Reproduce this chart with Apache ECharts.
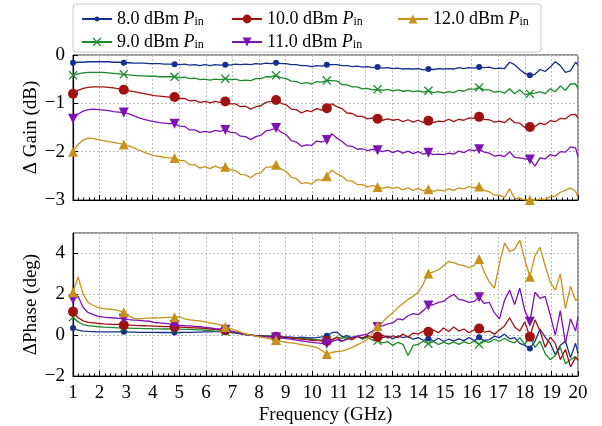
<!DOCTYPE html>
<html>
<head>
<meta charset="utf-8">
<script src="https://cdn.jsdelivr.net/npm/echarts@6/dist/echarts.min.js"></script>
<style>
html, body { margin: 0; padding: 0; background: #fff; }
#main { width: 602px; height: 426px; }
</style>
</head>
<body>
<div id="main"></div>
<script>
// sample grid in GHz (last point at 20)
var freq = [];
for (var i = 0; i < 100; i++) freq.push(+(1 + 0.191 * i).toFixed(3));
freq.push(20);

var names = ['8.0 dBm Pin', '9.0 dBm Pin', '10.0 dBm Pin', '11.0 dBm Pin', '12.0 dBm Pin'];
var colors = ['#172f8c', '#1b8a2b', '#a01212', '#7f12b5', '#c8921a'];

// delta gain (dB)
var gain8 = [-0.16,-0.15,-0.15,-0.14,-0.14,-0.14,-0.14,-0.14,-0.15,-0.15,
  -0.16,-0.16,-0.17,-0.17,-0.17,-0.18,-0.18,-0.18,-0.19,-0.19,
  -0.19,-0.2,-0.19,-0.21,-0.2,-0.22,-0.2,-0.22,-0.2,-0.21,
  -0.2,-0.21,-0.19,-0.2,-0.19,-0.2,-0.18,-0.19,-0.17,-0.18,
  -0.16,-0.18,-0.18,-0.2,-0.2,-0.22,-0.22,-0.24,-0.22,-0.23,
  -0.2,-0.2,-0.2,-0.22,-0.22,-0.24,-0.23,-0.25,-0.24,-0.26,
  -0.25,-0.27,-0.26,-0.28,-0.27,-0.29,-0.28,-0.29,-0.28,-0.31,
  -0.29,-0.3,-0.28,-0.29,-0.28,-0.29,-0.26,-0.28,-0.26,-0.27,
  -0.25,-0.26,-0.25,-0.28,-0.27,-0.28,-0.15,-0.2,-0.3,-0.38,
  -0.42,-0.4,-0.3,-0.34,-0.25,-0.14,-0.22,-0.36,-0.33,-0.15,
  -0.2];
var gain9 = [-0.42,-0.39,-0.37,-0.36,-0.36,-0.36,-0.36,-0.37,-0.38,-0.39,
  -0.4,-0.41,-0.42,-0.43,-0.43,-0.44,-0.44,-0.45,-0.45,-0.45,
  -0.45,-0.47,-0.46,-0.49,-0.48,-0.51,-0.5,-0.52,-0.5,-0.51,
  -0.49,-0.51,-0.5,-0.53,-0.52,-0.53,-0.49,-0.49,-0.45,-0.45,
  -0.42,-0.47,-0.49,-0.54,-0.55,-0.59,-0.57,-0.6,-0.55,-0.56,
  -0.53,-0.53,-0.54,-0.61,-0.62,-0.66,-0.66,-0.7,-0.69,-0.72,
  -0.71,-0.73,-0.71,-0.74,-0.72,-0.75,-0.73,-0.76,-0.74,-0.77,
  -0.74,-0.78,-0.76,-0.79,-0.76,-0.78,-0.73,-0.75,-0.7,-0.71,
  -0.67,-0.72,-0.72,-0.77,-0.75,-0.79,-0.7,-0.8,-0.72,-0.82,
  -0.8,-0.79,-0.76,-0.8,-0.7,-0.76,-0.64,-0.73,-0.6,-0.6,
  -0.7];
var gain10 = [-0.8,-0.73,-0.69,-0.67,-0.66,-0.66,-0.66,-0.67,-0.68,-0.7,
  -0.72,-0.74,-0.76,-0.78,-0.8,-0.82,-0.84,-0.85,-0.86,-0.87,
  -0.87,-0.9,-0.9,-0.95,-0.94,-0.98,-0.96,-0.99,-0.96,-0.98,
  -0.96,-1.01,-1.01,-1.07,-1.06,-1.12,-1.07,-1.05,-0.98,-0.96,
  -0.93,-1.0,-1.03,-1.12,-1.13,-1.2,-1.15,-1.17,-1.11,-1.14,
  -1.1,-1.01,-1.07,-1.11,-1.2,-1.21,-1.27,-1.27,-1.32,-1.3,
  -1.32,-1.35,-1.32,-1.35,-1.33,-1.38,-1.34,-1.39,-1.35,-1.4,
  -1.36,-1.4,-1.37,-1.38,-1.33,-1.38,-1.33,-1.35,-1.3,-1.31,
  -1.28,-1.33,-1.34,-1.39,-1.37,-1.4,-1.31,-1.4,-1.41,-1.5,
  -1.49,-1.48,-1.41,-1.44,-1.36,-1.38,-1.31,-1.32,-1.24,-1.23,
  -1.3];
var gain11 = [-1.32,-1.22,-1.16,-1.13,-1.12,-1.13,-1.14,-1.15,-1.17,-1.18,
  -1.19,-1.22,-1.26,-1.3,-1.33,-1.36,-1.38,-1.4,-1.41,-1.42,
  -1.42,-1.47,-1.48,-1.55,-1.55,-1.6,-1.58,-1.6,-1.56,-1.58,
  -1.55,-1.6,-1.61,-1.68,-1.69,-1.75,-1.69,-1.66,-1.57,-1.55,
  -1.51,-1.6,-1.65,-1.77,-1.8,-1.89,-1.86,-1.87,-1.78,-1.8,
  -1.76,-1.63,-1.72,-1.79,-1.88,-1.89,-1.95,-1.94,-1.98,-1.95,
  -1.97,-2.0,-1.97,-2.02,-1.98,-2.03,-1.99,-2.04,-2.0,-2.05,
  -2.02,-2.06,-2.05,-2.06,-2.03,-2.05,-1.99,-2.02,-1.96,-1.98,
  -1.95,-2.01,-2.03,-2.09,-2.07,-2.1,-2.0,-2.12,-2.13,-2.15,
  -2.16,-2.3,-2.13,-2.15,-2.06,-2.09,-2.0,-2.01,-1.9,-1.92,
  -2.11];
var gain12 = [-2.0,-1.85,-1.76,-1.72,-1.73,-1.75,-1.77,-1.79,-1.81,-1.83,
  -1.85,-1.88,-1.92,-1.97,-2.01,-2.05,-2.08,-2.1,-2.12,-2.13,
  -2.13,-2.18,-2.19,-2.27,-2.27,-2.34,-2.31,-2.35,-2.3,-2.34,
  -2.31,-2.37,-2.39,-2.47,-2.48,-2.54,-2.46,-2.44,-2.32,-2.32,
  -2.27,-2.36,-2.41,-2.53,-2.56,-2.66,-2.64,-2.67,-2.58,-2.59,
  -2.51,-2.38,-2.46,-2.51,-2.6,-2.61,-2.68,-2.68,-2.73,-2.7,
  -2.73,-2.76,-2.73,-2.76,-2.74,-2.79,-2.75,-2.8,-2.76,-2.81,
  -2.78,-2.82,-2.79,-2.81,-2.77,-2.8,-2.75,-2.77,-2.72,-2.75,
  -2.72,-2.8,-2.83,-2.9,-2.9,-2.95,-2.77,-2.97,-2.96,-3.0,
  -3.0,-3.01,-2.98,-2.99,-2.93,-2.92,-2.84,-2.8,-2.75,-2.82,
  -2.95];

// delta phase (deg)
var phase8 = [0.35,0.25,0.2,0.18,0.17,0.16,0.16,0.16,0.16,0.16,
  0.16,0.15,0.15,0.14,0.14,0.14,0.14,0.13,0.13,0.13,
  0.13,0.13,0.14,0.14,0.15,0.15,0.16,0.16,0.17,0.17,
  0.17,0.15,0.12,0.08,0.04,0.0,-0.02,-0.03,-0.04,-0.05,
  -0.06,-0.08,-0.08,-0.1,-0.12,-0.1,-0.12,-0.14,-0.12,-0.08,
  -0.03,0.12,0.15,-0.08,-0.02,-0.14,-0.06,-0.15,-0.04,-0.1,
  0.02,-0.12,-0.05,-0.18,-0.04,-0.12,-0.06,-0.2,-0.12,-0.25,
  -0.16,-0.3,-0.15,-0.3,-0.2,-0.28,-0.18,-0.27,-0.12,-0.26,
  -0.1,-0.26,-0.22,-0.05,-0.12,0.05,-0.18,-0.12,-0.4,-0.5,
  -0.65,-0.3,0.3,-0.1,-0.4,-0.95,-0.5,-0.3,-1.1,-0.4,
  -0.9];
var phase9 = [0.88,0.65,0.52,0.47,0.44,0.41,0.39,0.38,0.37,0.36,
  0.35,0.34,0.33,0.33,0.32,0.32,0.31,0.31,0.3,0.3,
  0.29,0.29,0.28,0.28,0.27,0.26,0.24,0.22,0.2,0.18,
  0.16,0.13,0.1,0.06,0.02,0.0,-0.02,-0.04,-0.05,-0.06,
  -0.08,-0.1,-0.12,-0.14,-0.15,-0.16,-0.18,-0.2,-0.22,-0.23,
  -0.25,-0.22,-0.1,-0.16,-0.08,-0.18,-0.05,-0.2,-0.1,-0.25,
  -0.28,-0.38,-0.32,-0.5,-0.35,-0.45,-1.0,-0.5,-0.45,-0.3,
  -0.42,-0.32,-0.46,-0.34,-0.44,-0.33,-0.45,-0.32,-0.42,-0.3,
  -0.45,-0.3,-0.35,-0.2,-0.3,-0.15,-0.3,-0.38,-0.12,-0.45,
  -0.1,-0.6,-0.3,-0.9,-1.2,-1.0,-0.6,-1.4,-1.2,-1.05,
  -1.25];
var phase10 = [1.15,0.85,0.7,0.63,0.6,0.57,0.55,0.54,0.53,0.52,
  0.5,0.49,0.48,0.47,0.46,0.45,0.44,0.43,0.42,0.42,
  0.4,0.39,0.38,0.37,0.36,0.35,0.33,0.3,0.28,0.26,
  0.24,0.2,0.15,0.1,0.05,0.0,-0.03,-0.05,-0.06,-0.07,
  -0.08,-0.1,-0.12,-0.14,-0.17,-0.2,-0.22,-0.25,-0.27,-0.28,
  -0.29,-0.25,-0.1,-0.3,-0.16,-0.22,-0.06,-0.15,-0.02,-0.12,
  -0.08,0.0,-0.14,-0.04,-0.12,0.05,-0.1,0.1,0.05,0.2,
  0.16,0.25,0.12,0.35,0.18,0.4,0.2,0.3,0.12,0.25,
  0.32,0.15,0.2,0.05,0.25,0.45,0.85,0.4,0.2,0.65,
  -0.08,0.75,0.2,-0.6,-0.1,-0.4,-1.2,-0.7,-1.55,-1.1,
  -1.2];
var phase11 = [1.75,1.9,1.35,1.1,1.0,0.92,0.88,0.86,0.84,0.82,
  0.8,0.76,0.74,0.72,0.7,0.68,0.62,0.6,0.58,0.55,
  0.5,0.48,0.46,0.45,0.43,0.42,0.38,0.35,0.32,0.3,
  0.26,0.2,0.14,0.08,0.03,0.0,-0.04,-0.06,-0.08,-0.09,
  -0.12,-0.14,-0.17,-0.2,-0.24,-0.28,-0.32,-0.35,-0.38,-0.4,
  -0.42,-0.32,-0.22,-0.3,-0.2,-0.1,-0.05,0.0,0.05,0.2,
  0.4,0.45,0.55,0.6,0.8,0.75,0.95,1.05,1.0,1.2,
  1.45,1.5,1.6,1.65,1.85,2.0,1.75,1.7,1.6,1.65,
  1.85,1.55,1.6,1.1,0.8,1.7,2.2,1.5,2.3,1.2,
  0.65,2.1,1.8,1.9,1.0,0.0,1.2,-0.4,0.8,0.2,
  0.9];
var phase12 = [2.1,2.85,2.0,1.6,1.45,1.35,1.3,1.28,1.25,1.2,
  1.12,0.95,0.82,0.8,0.82,0.83,0.84,0.85,0.86,0.87,
  0.88,0.9,0.8,0.75,0.72,0.7,0.65,0.6,0.55,0.5,
  0.4,0.32,0.25,0.15,0.05,0.0,-0.05,-0.1,-0.15,-0.2,
  -0.24,-0.3,-0.35,-0.38,-0.42,-0.46,-0.5,-0.55,-0.6,-0.75,
  -0.92,-0.85,-0.8,-0.78,-0.7,-0.6,-0.48,-0.35,-0.2,0.1,
  0.45,0.65,0.9,1.1,1.35,1.55,1.75,1.9,2.1,2.5,
  3.02,3.1,3.2,3.4,3.6,3.55,3.45,3.4,3.3,3.4,
  3.73,3.1,2.6,2.3,3.5,4.5,4.1,4.2,4.65,3.7,
  2.86,3.9,4.3,3.4,2.6,2.2,3.0,1.3,2.4,1.7,
  1.8];

var gainData = [gain8, gain9, gain10, gain11, gain12];
var phaseData = [phase8, phase9, phase10, phase11, phase12];

var xMark = 'path://M0,1L1,0L5,4L9,0L10,1L6,5L10,9L9,10L5,6L1,10L0,9L4,5Z';
var downTri = 'path://M0,0L10,0L5,9Z';
var symbols = ['circle', xMark, 'circle', downTri, 'triangle'];
var symSizes = [6, 9, 10, 10, 10];

var serif = 'Liberation Serif';

function pts(vals) {
    return freq.map(function (f, j) { return [f, vals[j]]; });
}
function marks(vals) {
    var out = [];
    for (var j = 0; j < 100; j += 10) out.push([freq[j], vals[j]]);
    return out;
}

var series = [];
[gainData, phaseData].forEach(function (set, g) {
    set.forEach(function (vals, k) {
        series.push({
            name: names[k], type: 'line', xAxisIndex: g, yAxisIndex: g,
            data: pts(vals), symbol: symbols[k], symbolSize: symSizes[k],
            showSymbol: false, z: 2 + k,
            lineStyle: {color: colors[k], width: 1.3},
            itemStyle: {color: colors[k]}
        });
        series.push({
            name: names[k], type: 'scatter', xAxisIndex: g, yAxisIndex: g,
            data: marks(vals), symbol: symbols[k], symbolSize: symSizes[k],
            z: 2 + k, itemStyle: {color: colors[k], opacity: 1}
        });
    });
});

function minus(v) { return v < 0 ? '\u2212' + Math.abs(v) : '' + v; }

var splitStyle = {show: true, lineStyle: {color: '#bbb', type: [2, 2], width: 1}};

function xAxis(g, showLabel) {
    return {
        type: 'value', gridIndex: g, min: 1, max: 20, interval: 1,
        axisLine: {show: true, onZero: false, lineStyle: {color: '#000', width: 1.2}},
        axisTick: {show: true, inside: true, length: 5, lineStyle: {color: '#000'}},
        minorTick: {show: true, splitNumber: 5, length: 2.5, lineStyle: {color: '#000'}},
        splitLine: splitStyle,
        axisLabel: {show: showLabel, color: '#000', fontFamily: serif, fontSize: 19, margin: 8},
        name: showLabel ? 'Frequency (GHz)' : '', nameLocation: 'middle', nameGap: 30,
        nameTextStyle: {color: '#000', fontFamily: serif, fontSize: 19}
    };
}
function yAxis(g, min, max, name) {
    return {
        type: 'value', gridIndex: g, min: min, max: max, interval: g === 0 ? 1 : 2,
        axisLine: {show: true, onZero: false, lineStyle: {color: '#000', width: 1.2}},
        axisTick: {show: true, inside: true, length: 5, lineStyle: {color: '#000'}},
        splitLine: splitStyle,
        axisLabel: {color: '#000', fontFamily: serif, fontSize: 19, margin: 8,
            showMaxLabel: g === 0, formatter: minus},
        name: name, nameLocation: 'middle', nameGap: 32, nameMoveOverlap: false,
        nameTextStyle: {color: '#000', fontFamily: serif, fontSize: 19}
    };
}

// one legend component per entry so the column layout can be placed freely
var legendPos = [[76, 5], [76, 28], [226, 5], [226, 28], [392, 5]];
var legends = names.map(function (n, k) {
    return {
        data: [n], left: legendPos[k][0], top: legendPos[k][1],
        itemWidth: 30, itemHeight: k === 0 ? 6 : 11, itemGap: 0,
        selectedMode: false,
        formatter: function (name) {
            return '{t|' + name.replace(' Pin', '') + ' }{p|P}{s|in}';
        },
        textStyle: {
            color: '#000', fontFamily: serif, fontSize: 18,
            rich: {
                t: {fontFamily: serif, fontSize: 18, color: '#000'},
                p: {fontFamily: serif, fontSize: 18, fontStyle: 'italic', color: '#000'},
                s: {fontFamily: serif, fontSize: 12, color: '#000', verticalAlign: 'bottom', lineHeight: 8}
            }
        }
    };
});

var chart = echarts.init(document.getElementById('main'));
chart.setOption({
    animation: false,
    backgroundColor: '#fff',
    graphic: [{
        type: 'rect', shape: {x: 73, y: 4, width: 468, height: 48, r: 3},
        style: {fill: '#fff', stroke: '#ccc', lineWidth: 1}, z: -1
    }],
    legend: legends,
    grid: [
        {left: 73, top: 55, width: 505, height: 145, show: true, borderColor: '#333', borderWidth: 1},
        {left: 73, top: 233, width: 505, height: 144, show: true, borderColor: '#333', borderWidth: 1}
    ],
    xAxis: [xAxis(0, false), xAxis(1, true)],
    yAxis: [yAxis(0, -3, 0, '\u0394 Gain (dB)'), yAxis(1, -2, 5, '\u0394Phase (deg)')],
    series: series
});
</script>
</body>
</html>
